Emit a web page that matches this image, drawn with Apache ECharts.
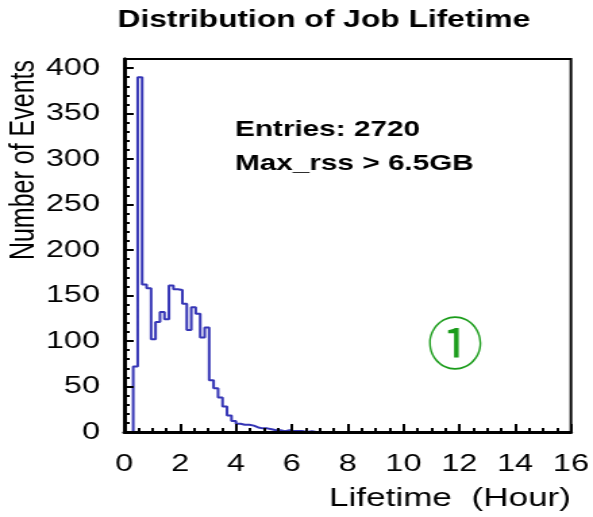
<!DOCTYPE html>
<html>
<head>
<meta charset="utf-8">
<script src="https://cdn.jsdelivr.net/npm/echarts@6/dist/echarts.min.js"></script>
<style>
  html, body { margin: 0; padding: 0; background: #fff; overflow: hidden; }
  /* the reference picture is stretched sideways, so the chart is drawn narrow and stretched */
  #main { width: 439px; height: 517px; transform: scaleX(1.3508); transform-origin: 0 0; }
</style>
</head>
<body>
<div id="main"></div>
<script>
var stretch = 1.3508;
var font = "Liberation Sans";

// histogram: 100 bins of 0.16 h between 0 and 16 h
var binWidth = 0.16;
var counts = [
  0, 0, 72, 390, 162, 158, 102, 121, 132, 124,
  161, 157, 156, 141, 112, 137, 130, 104, 115, 57,
  48, 38, 28, 18, 12, 9, 8, 8, 7, 5,
  4, 4, 3, 2, 2, 1, 2, 1, 1, 1,
  0, 1, 0, 0, 0, 0, 0, 0, 0, 0,
  0, 0, 0, 0, 0, 0, 0, 0, 0, 0,
  0, 0, 0, 0, 0, 0, 0, 0, 0, 0,
  0, 0, 0, 0, 0, 0, 0, 0, 0, 0,
  0, 0, 0, 0, 0, 0, 0, 0, 0, 0,
  0, 0, 0, 0, 0, 0, 0, 0, 0, 0
];
var xMin = 0, xMax = 16, xStep = 2;
var yMin = 0, yMax = 410, yStep = 50, yMinorStep = 10;
var statLines = ["Entries: 2720", "Max_rss > 6.5GB"];

// step line points at the bin edges
var points = counts.map(function (c, i) { return [i * binWidth, c]; });
points.push([counts.length * binWidth, counts[counts.length - 1]]);

var myChart = echarts.init(document.getElementById("main"));
myChart.setOption({
  animation: false,
  title: [
    {
      text: "Distribution of Job Lifetime",
      left: 82,
      top: 4,
      textStyle: { fontFamily: font, fontSize: 23.5, fontWeight: "bold", color: "#000" }
    },
    {
      text: statLines.join("\n"),
      left: 169,
      top: 108,
      textStyle: { fontFamily: font, fontSize: 22, fontWeight: "bold", color: "#000", lineHeight: 34 }
    }
  ],
  grid: {
    left: 92, right: 14, top: 59, bottom: 85,
    show: true, borderColor: "#000", borderWidth: 2
  },
  xAxis: {
    type: "value", min: xMin, max: xMax, interval: xStep,
    name: "Lifetime  (Hour)",
    nameLocation: "end",
    nameGap: 0,
    nameTextStyle: {
      fontFamily: font, fontSize: 26, color: "#000",
      align: "right", verticalAlign: "top", padding: [54, 0, 0, 0]
    },
    axisLine: { lineStyle: { color: "#000", width: 3 } },
    axisTick: { inside: true, length: 8, lineStyle: { color: "#000", width: 2 } },
    minorTick: { show: true, splitNumber: 4, length: 4, lineStyle: { color: "#000", width: 2 } },
    axisLabel: { fontFamily: font, fontSize: 24, color: "#000", margin: 20 },
    splitLine: { show: false },
    z: 5
  },
  yAxis: [
    {
      type: "value", min: yMin, max: yMax, interval: yStep, position: "left",
      name: "Number of Events",
      nameLocation: "end",
      nameRotate: 90,
      nameGap: -1,
      nameTextStyle: {
        fontFamily: font, fontSize: 25, color: "#000",
        align: "right", verticalAlign: "bottom", padding: [0, 0, 61, 0]
      },
      axisLine: { show: true, lineStyle: { color: "#000", width: 3 } },
      axisTick: { inside: true, length: 7, lineStyle: { color: "#000", width: 2 } },
      axisLabel: { fontFamily: font, fontSize: 24, color: "#000", margin: 18, showMaxLabel: false },
      splitLine: { show: false },
      z: 5
    },
    {
      // minor ticks every 10
      type: "value", min: yMin, max: yMax, interval: yMinorStep, position: "left",
      axisLine: { show: true, lineStyle: { color: "#000", width: 3 } },
      axisTick: { inside: true, length: 4, lineStyle: { color: "#000", width: 2 } },
      axisLabel: { show: false },
      splitLine: { show: false },
      z: 5
    }
  ],
  series: [
    {
      type: "line",
      step: "end",
      showSymbol: false,
      data: points,
      lineStyle: { color: "#3535b5", width: 2 },
      itemStyle: { color: "#3535b5" },
      z: 2
    }
  ],
  graphic: [
    {
      type: "text",
      x: 337, y: 343,
      scaleX: 1 / stretch,
      style: {
        text: "\u2460",
        fontFamily: "Noto Sans CJK SC",
        fontSize: 56,
        fill: "#1a9c1a",
        align: "center",
        verticalAlign: "middle"
      }
    }
  ]
});
</script>
</body>
</html>
